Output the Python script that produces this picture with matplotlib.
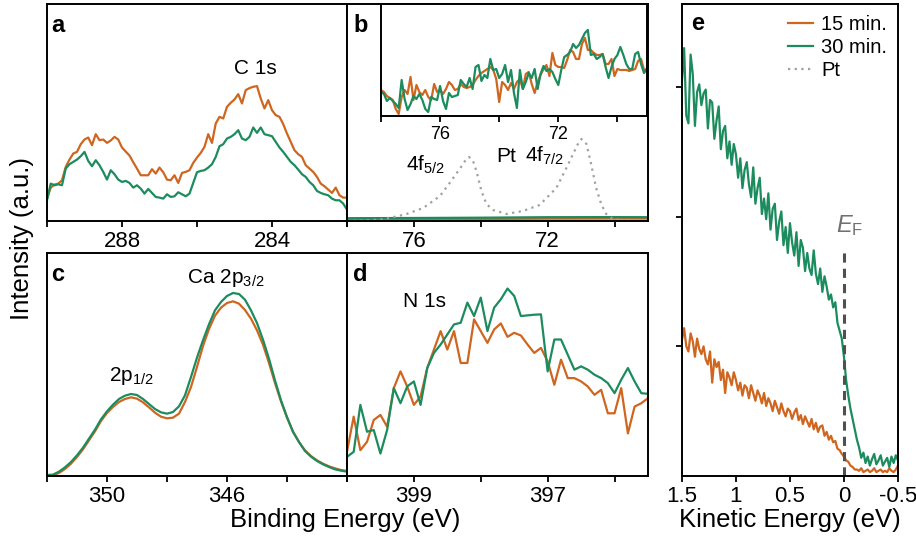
import matplotlib.pyplot as plt
import numpy as np

plt.rcParams['font.family'] = ['Liberation Sans', 'DejaVu Sans']
plt.rcParams['mathtext.fontset'] = 'custom'
plt.rcParams['mathtext.rm'] = 'Liberation Sans'
plt.rcParams['mathtext.it'] = 'Liberation Sans:italic'

ORANGE = '#cf6620'
GREEN = '#1c8c5e'
PT_GREY = '#a0a0a0'

# --- a: C 1s (binding energy grid 290 -> 282 eV, 0.1 eV step)
c1s_energy = np.linspace(290, 282, 81)
c1s_15 = [67, 100, 109, 112, 122, 162, 184, 202, 207, 230,
          244, 250, 227, 260, 242, 244, 234, 241, 252, 244,
          220, 208, 196, 176, 157, 137, 137, 137, 155, 142,
          160, 146, 124, 122, 137, 114, 144, 147, 152, 174,
          190, 204, 222, 260, 234, 292, 312, 307, 342, 354,
          364, 380, 352, 392, 398, 402, 404, 367, 337, 362,
          332, 317, 312, 290, 262, 237, 212, 200, 192, 167,
          157, 147, 132, 112, 104, 94, 84, 100, 77, 70, 70]
c1s_30 = [62, 112, 107, 110, 107, 157, 170, 177, 184, 194,
          207, 180, 164, 182, 167, 147, 124, 152, 140, 124,
          117, 120, 114, 100, 107, 97, 82, 96, 84, 72,
          70, 67, 80, 72, 74, 86, 80, 74, 82, 114,
          146, 150, 152, 160, 170, 192, 224, 230, 247, 252,
          260, 272, 247, 242, 252, 280, 264, 280, 260, 257,
          254, 237, 220, 207, 192, 177, 167, 154, 140, 132,
          117, 107, 90, 84, 80, 77, 67, 62, 62, 52, 34]

# --- b: Pt 4f region (78 -> 69 eV, 0.1 eV step), inset scale
pt4f_energy = np.linspace(78, 69, 91)
pt4f_15 = [26, 24, 20, 18, 16, 7, 2, 19, 26, 22,
           39, 16, 31, 24, 21, 26, 19, 16, 32, 24,
           26, 22, 27, 34, 31, 26, 27, 32, 29, 28,
           29, 31, 36, 40, 43, 45, 47, 49, 46, 37,
           14, 34, 31, 26, 33, 27, 34, 37, 27, 42,
           44, 32, 23, 34, 41, 47, 51, 40, 63, 51,
           49, 49, 48, 56, 66, 64, 57, 57, 72, 78,
           66, 66, 63, 61, 61, 62, 52, 52, 57, 40,
           47, 46, 46, 46, 45, 46, 47, 55, 57, 46, 47]
pt4f_30 = [24, 22, 15, 18, 15, 12, 8, 36, 17, 6,
           12, 20, 17, 22, 16, 7, 4, 19, 17, 16,
           30, 15, 7, 23, 19, 20, 21, 36, 32, 29,
           38, 27, 49, 51, 35, 41, 38, 57, 46, 47,
           38, 42, 51, 34, 46, 23, 8, 46, 27, 34,
           43, 38, 47, 27, 42, 50, 45, 47, 44, 37,
           31, 46, 59, 61, 64, 72, 68, 71, 77, 83,
           86, 61, 62, 57, 59, 62, 49, 38, 49, 57,
           61, 69, 61, 52, 47, 47, 62, 64, 52, 43, 47]
# same region on the C 1s intensity scale (nearly flat)
pt4f_abs_energy = [78, 76, 74, 72, 70, 69]
pt4f_abs_15 = [1.8, 1.9, 2.0, 2.3, 2.4, 2.4]
pt4f_abs_30 = [2.8, 3.0, 3.3, 3.8, 3.9, 3.8]
# Pt foil reference
pt_ref_energy = [78.0, 77.5, 77.0, 76.72, 76.22, 75.72, 75.22, 74.93, 74.63, 74.45,
                 74.35, 74.23, 74.13, 73.98, 73.83, 73.63, 73.23, 72.74, 72.24, 71.74,
                 71.44, 71.24, 71.08, 70.99, 70.84, 70.70, 70.55, 70.40, 70.25, 70.05,
                 69.5, 69.0]
pt_ref = [0, 0.5, 1.5, 3, 7, 13, 25, 38, 52, 61,
          64, 60, 50, 30, 17, 11, 7, 10, 16, 33,
          53, 67, 78, 82, 77, 57, 33, 17, 7, 2,
          0, 0]

# --- c: Ca 2p (352 -> 342 eV, 0.2 eV step)
ca2p_energy = np.linspace(352, 342, 51)
ca2p_15 = [0, 2, 9, 21, 37, 57, 80, 107, 134, 165,
           189, 207, 222, 231, 236, 232, 221, 206, 190, 178,
           173, 175, 187, 222, 267, 327, 390, 441, 481, 505,
           519, 524, 517, 498, 472, 437, 394, 339, 279, 224,
           175, 134, 102, 77, 60, 47, 37, 29, 23, 18, 15]
ca2p_30 = [3, 4, 13, 26, 42, 62, 85, 112, 139, 170,
           194, 214, 231, 241, 246, 243, 231, 216, 201, 191,
           187, 192, 209, 242, 297, 355, 407, 455, 497, 522,
           540, 549, 546, 529, 497, 459, 409, 352, 287, 227,
           177, 132, 102, 75, 58, 45, 35, 27, 20, 16, 13]

# --- d: N 1s (400 -> 395.5 eV, 0.1 eV step)
n1s_energy = np.linspace(400, 395.5, 46)
n1s_15 = [72, 177, 77, 102, 167, 182, 147, 262, 312, 267,
          212, 237, 322, 377, 432, 377, 432, 337, 337, 467,
          432, 397, 437, 455, 415, 427, 419, 392, 367, 382,
          342, 272, 347, 292, 292, 282, 267, 242, 257, 187,
          187, 262, 127, 207, 217, 232]
n1s_30 = [57, 72, 212, 132, 137, 67, 137, 262, 217, 267,
          282, 212, 322, 367, 392, 422, 452, 457, 517, 477,
          532, 432, 502, 527, 559, 537, 477, 479, 481, 482,
          312, 407, 407, 362, 317, 327, 317, 302, 292, 277,
          247, 287, 322, 282, 247, 245]

# --- e: valence band near E_F (1.5 -> -0.5 eV, 0.02 eV step)
vb_energy = np.linspace(1.5, -0.5, 101)
vb_15 = [1.05, 1.14, 1.00, 0.96, 1.10, 1.04, 0.92, 1.06, 0.98, 0.94,
         1.00, 0.90, 0.86, 0.96, 0.72, 0.90, 0.84, 0.88, 0.74, 0.82,
         0.64, 0.80, 0.76, 0.70, 0.80, 0.74, 0.66, 0.72, 0.62, 0.70,
         0.68, 0.60, 0.70, 0.64, 0.58, 0.66, 0.62, 0.56, 0.64, 0.54,
         0.60, 0.56, 0.50, 0.58, 0.53, 0.48, 0.56, 0.50, 0.46, 0.52,
         0.50, 0.44, 0.49, 0.52, 0.43, 0.47, 0.40, 0.46, 0.42, 0.38,
         0.44, 0.36, 0.41, 0.34, 0.38, 0.39, 0.31, 0.34, 0.28, 0.31,
         0.26, 0.27, 0.21, 0.20, 0.17, 0.15, 0.12, 0.11, 0.08, 0.07,
         0.05, 0.05, 0.04, 0.06, 0.03, 0.04, 0.05, 0.03, 0.04, 0.06,
         0.03, 0.04, 0.05, 0.03, 0.04, 0.03, 0.06, 0.04, 0.03, 0.05, 0.08]
vb_30 = [3.05, 3.30, 2.78, 2.72, 3.25, 3.10, 2.70, 2.96, 3.02, 2.86,
         2.95, 2.98, 2.68, 2.90, 2.88, 2.60, 2.74, 2.85, 2.52, 2.66,
         2.70, 2.45, 2.58, 2.40, 2.56, 2.48, 2.30, 2.45, 2.22, 2.36,
         2.42, 2.25, 2.15, 2.38, 2.10, 2.22, 2.30, 2.02, 2.14, 1.98,
         2.18, 1.90, 2.06, 2.10, 1.82, 1.96, 2.04, 1.78, 1.92, 1.72,
         1.95, 1.80, 1.70, 1.88, 1.62, 1.82, 1.76, 1.58, 1.72, 1.60,
         1.55, 1.74, 1.56, 1.48, 1.60, 1.42, 1.54, 1.46, 1.36, 1.40,
         1.30, 1.34, 1.18, 1.12, 1.06, 0.92, 0.74, 0.62, 0.52, 0.44,
         0.36, 0.28, 0.22, 0.14, 0.18, 0.10, 0.15, 0.08, 0.13, 0.17,
         0.09, 0.12, 0.16, 0.08, 0.11, 0.14, 0.07, 0.15, 0.10, 0.16, 0.12]

fig = plt.figure(figsize=(9.16, 5.39), dpi=100)

def stil(ax, ticks, labels, fs=16):
    ax.set_xticks(ticks)
    ax.set_xticklabels(labels)
    ax.set_yticks([])
    ax.tick_params(axis='x', direction='out', length=4, width=1.3, labelsize=fs, pad=3)
    for s in ax.spines.values():
        s.set_linewidth(1.4)

def harf(ax, s, x, y):
    ax.text(x, y, s, transform=ax.transAxes, fontsize=17, fontweight='bold', va='top', ha='left')

lw = 1.6
fs_note = 15

# a
ax_a = fig.add_axes([0.0513, 0.590, 0.3275, 0.4026])
ax_a.plot(c1s_energy, c1s_15, color=ORANGE, lw=lw)
ax_a.plot(c1s_energy, c1s_30, color=GREEN, lw=lw)
ax_a.set_xlim(290, 282)
ax_a.set_ylim(0, 650)
stil(ax_a, [290, 288, 286, 284, 282], ['', '288', '', '284', ''])
harf(ax_a, 'a', 0.015, 0.955)
ax_a.text(284.45, 440, 'C 1s', fontsize=fs_note, ha='center', va='baseline')

# b main
ax_b = fig.add_axes([0.3788, 0.590, 0.3286, 0.4026])
ax_b.plot(pt4f_abs_energy, pt4f_abs_15, color=ORANGE, lw=lw)
ax_b.plot(pt4f_abs_energy, pt4f_abs_30, color=GREEN, lw=lw)
pt_line, = ax_b.plot(pt_ref_energy, pt_ref, color=PT_GREY, lw=1.6, ls=(0, (1, 2)))
ax_b.set_xlim(78, 69)
ax_b.set_ylim(0, 217)
stil(ax_b, [78, 76, 74, 72, 70], ['', '76', '', '72', ''])
harf(ax_b, 'b', 0.022, 0.955)
ax_b.text(75.65, 50, r'4f$_{5/2}$', fontsize=fs_note, ha='center', va='baseline')
ax_b.text(73.25, 59, 'Pt', fontsize=fs_note, ha='center', va='baseline')
ax_b.text(72.1, 59, r'4f$_{7/2}$', fontsize=fs_note, ha='center', va='baseline')

# b inset
ax_bi = fig.add_axes([0.4159, 0.7848, 0.2904, 0.2078])
ax_bi.plot(pt4f_energy, pt4f_15, color=ORANGE, lw=lw)
ax_bi.plot(pt4f_energy, pt4f_30, color=GREEN, lw=lw)
ax_bi.set_xlim(78, 69)
ax_bi.set_ylim(0, 112)
stil(ax_bi, [78, 76, 74, 72, 70], ['', '76', '', '72', ''], fs=13)

# c
ax_c = fig.add_axes([0.0513, 0.1169, 0.3275, 0.4137])
ax_c.plot(ca2p_energy, ca2p_15, color=ORANGE, lw=lw)
ax_c.plot(ca2p_energy, ca2p_30, color=GREEN, lw=lw)
ax_c.set_xlim(352, 342)
ax_c.set_ylim(0, 669)
stil(ax_c, [352, 350, 348, 346, 344, 342], ['', '350', '', '346', '', ''])
harf(ax_c, 'c', 0.015, 0.955)
ax_c.text(346.05, 578, r'Ca 2p$_{3/2}$', fontsize=fs_note, ha='center', va='baseline')
ax_c.text(349.2, 285, r'2p$_{1/2}$', fontsize=fs_note, ha='center', va='baseline')

# d
ax_d = fig.add_axes([0.3788, 0.1169, 0.3286, 0.4137])
ax_d.plot(n1s_energy, n1s_15, color=ORANGE, lw=lw)
ax_d.plot(n1s_energy, n1s_30, color=GREEN, lw=lw)
ax_d.set_xlim(400, 395.5)
ax_d.set_ylim(0, 665)
stil(ax_d, [400, 399, 398, 397, 396], ['', '399', '', '397', ''])
harf(ax_d, 'd', 0.02, 0.955)
ax_d.text(398.84, 505, 'N 1s', fontsize=fs_note, ha='center', va='baseline')

# e
ax_e = fig.add_axes([0.7445, 0.1169, 0.2358, 0.8757])
l15, = ax_e.plot(vb_energy, vb_15, color=ORANGE, lw=lw)
l30, = ax_e.plot(vb_energy, vb_30, color=GREEN, lw=lw)
ax_e.axvline(0, ymin=0, ymax=0.486, color='#505050', lw=2.2, ls=(0, (3, 2)))
ax_e.set_xlim(1.5, -0.5)
ax_e.set_ylim(0, 3.64)
stil(ax_e, [1.5, 1, 0.5, 0, -0.5], ['1.5', '1', '0.5', '0', '-0.5'])
ax_e.set_yticks([1, 2, 3])
ax_e.set_yticklabels([])
ax_e.tick_params(axis='y', direction='out', length=4, width=1.3)
harf(ax_e, 'e', 0.042, 0.983)
ax_e.text(-0.05, 1.88, r'$E_{\rm F}$', fontsize=17, color='#707070', ha='center', va='baseline')
ax_e.legend([l15, l30, pt_line], ['15 min.', '30 min.', 'Pt'], loc='upper right',
            frameon=False, fontsize=14.5, handlelength=1.25, handletextpad=0.4,
            labelspacing=0.2, borderaxespad=0.15)

fig.text(0.024, 0.557, 'Intensity (a.u.)', rotation=90, fontsize=18.5, ha='center', va='center')
fig.text(0.377, 0.036, 'Binding Energy (eV)', fontsize=18.5, ha='center', va='center')
fig.text(0.862, 0.036, 'Kinetic Energy (eV)', fontsize=18.5, ha='center', va='center')

fig.savefig('out.png', dpi=100)
